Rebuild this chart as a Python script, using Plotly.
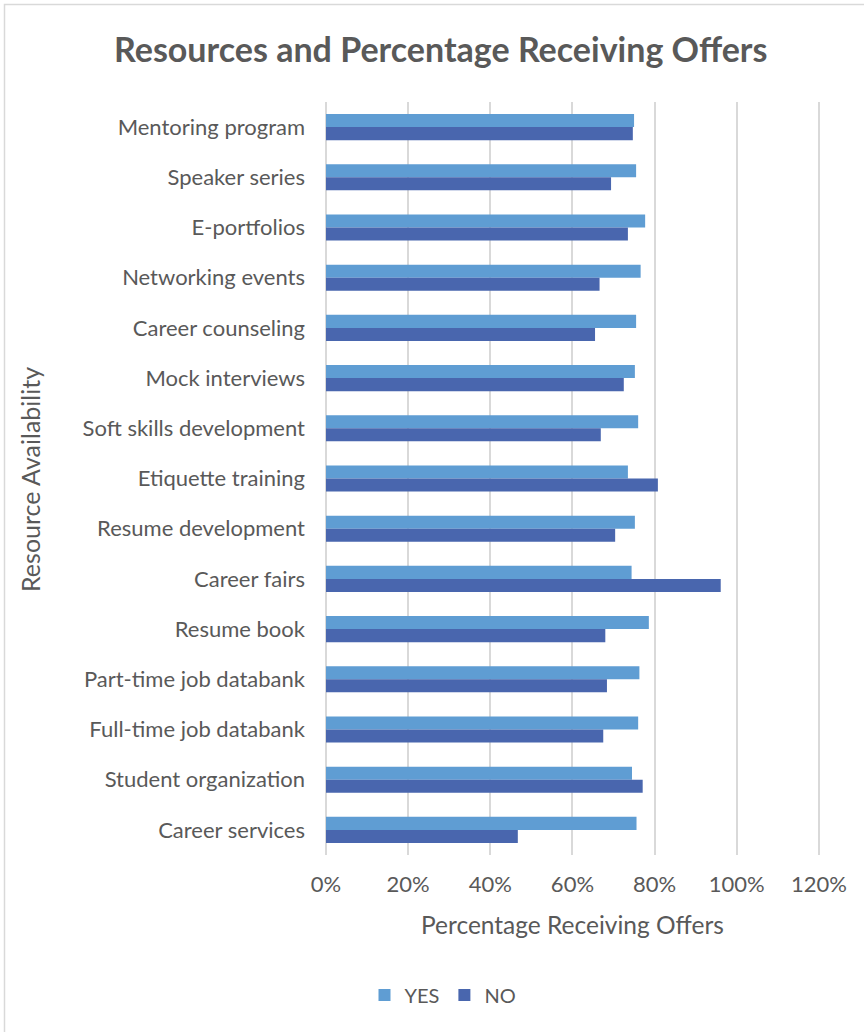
import plotly.graph_objects as go

# Resource names, listed top to bottom as they appear on the chart
resources = [
    "Mentoring program",
    "Speaker series",
    "E-portfolios",
    "Networking events",
    "Career counseling",
    "Mock interviews",
    "Soft skills development",
    "Etiquette training",
    "Resume development",
    "Career fairs",
    "Resume book",
    "Part-time job databank",
    "Full-time job databank",
    "Student organization",
    "Career services",
]

# Share of students receiving offers, by whether the resource was used
yes_share = [0.750, 0.755, 0.777, 0.766, 0.755, 0.752, 0.760, 0.735,
             0.752, 0.744, 0.786, 0.763, 0.760, 0.745, 0.756]
no_share = [0.747, 0.694, 0.735, 0.666, 0.655, 0.725, 0.669, 0.808,
            0.704, 0.961, 0.680, 0.684, 0.675, 0.771, 0.467]

x_ticks = [0, 0.2, 0.4, 0.6, 0.8, 1.0, 1.2]
X_MAX = 1.21

FONT = "Lato, 'Open Sans', sans-serif"
TEXT = "#595959"
GRID = "#d9d9d9"

fig = go.Figure()
fig.add_trace(go.Bar(
    name="YES", y=resources, x=yes_share, orientation="h",
    marker=dict(color="#5f9dd3", line=dict(width=0)),
))
fig.add_trace(go.Bar(
    name="NO", y=resources, x=no_share, orientation="h",
    marker=dict(color="#4966ae", line=dict(width=0)),
))

# plot area: x 326..823 px (120% at ~819), y 102..855 px
L, R, T, B = 326, 41, 102, 177
W, H = 864, 1032
pw, ph = W - L - R, H - T - B


def px(xp):
    return (xp - L) / pw


def py(yp):
    return (H - B - yp) / ph


fig.update_layout(
    width=W, height=H,
    margin=dict(l=L, r=R, t=T, b=B),
    paper_bgcolor="white", plot_bgcolor="white",
    barmode="group", bargap=0.48, bargroupgap=0,
    font=dict(family=FONT, color=TEXT, size=22),
    showlegend=True,
    legend=dict(
        orientation="h", x=px(443), y=py(995),
        xanchor="center", yanchor="middle",
        font=dict(size=20, color=TEXT),
        itemwidth=30, traceorder="normal",
    ),
    xaxis=dict(
        range=[0, X_MAX], tickvals=x_ticks, tickformat=".0%",
        showgrid=True, gridcolor=GRID, gridwidth=1.5,
        zeroline=True, zerolinecolor=GRID, zerolinewidth=1.5,
        showline=False, ticks="", ticklabelstandoff=14,
        tickfont=dict(size=22, color=TEXT),
        fixedrange=True,
    ),
    yaxis=dict(
        autorange="reversed", showgrid=False, zeroline=False,
        showline=False, ticks="", ticklabelstandoff=20,
        tickfont=dict(size=22, color=TEXT),
    ),
    shapes=[
        dict(type="rect", xref="paper", yref="paper",
             x0=px(4.5), x1=px(875), y0=py(1045), y1=py(4.5),
             line=dict(color="#d9d9d9", width=1.5), fillcolor="rgba(0,0,0,0)",
             layer="below"),
    ],
    annotations=[
        dict(text="<b>Resources and Percentage Receiving Offers</b>",
             xref="paper", yref="paper", x=px(440), y=py(48),
             xanchor="center", yanchor="middle", showarrow=False,
             font=dict(size=34, color=TEXT, family=FONT)),
        dict(text="Percentage Receiving Offers",
             xref="paper", yref="paper", x=px(572), y=py(925),
             xanchor="center", yanchor="middle", showarrow=False,
             font=dict(size=24.5, color=TEXT, family=FONT)),
        dict(text="Resource Availability", textangle=-90,
             xref="paper", yref="paper", x=px(30), y=py(480),
             xanchor="center", yanchor="middle", showarrow=False,
             font=dict(size=25, color=TEXT, family=FONT)),
    ],
)

fig.write_html("out.html")
